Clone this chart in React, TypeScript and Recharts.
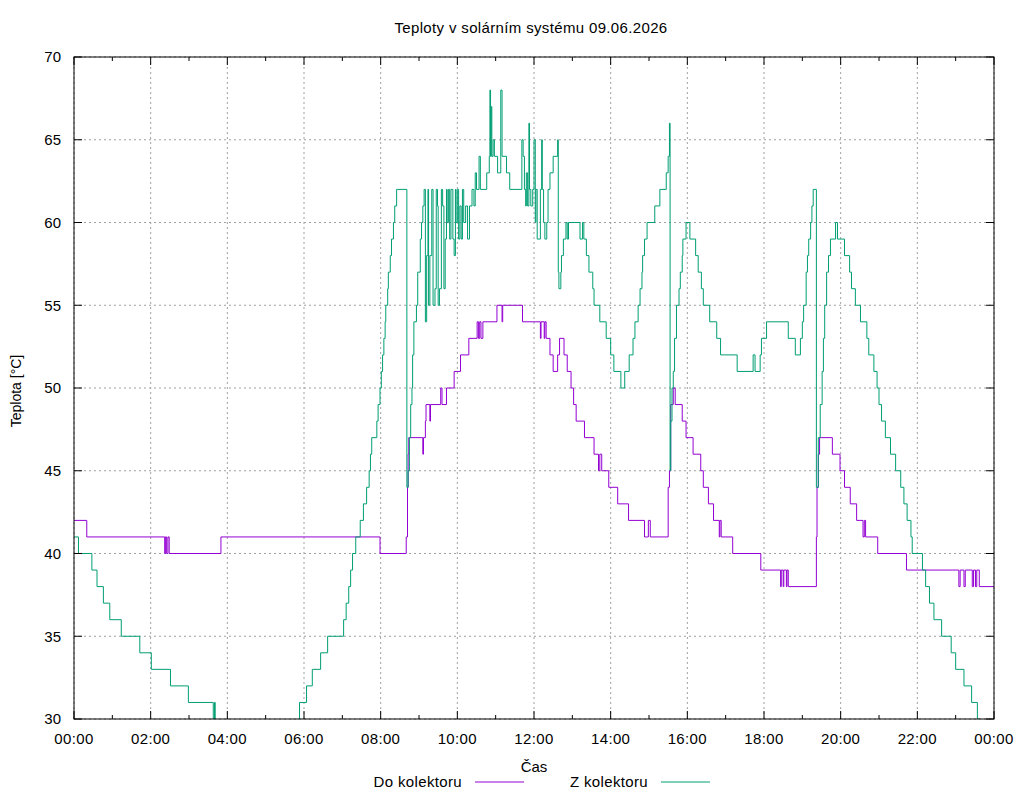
import React from 'react';
import { LineChart, Line, XAxis, YAxis, CartesianGrid, Legend } from 'recharts';

// time (HH:MM) -> temperature, step changes
const doKolektoru: [string, number][] = [
  ['00:00', 42], ['00:20', 41], ['02:22', 40], ['02:23', 41], ['02:25', 40], ['02:27', 41], ['02:29', 40],
  ['03:50', 41], ['07:59', 40], ['08:40', 41], ['08:42', 44], ['08:43', 46], ['08:44', 47], ['09:06', 46],
  ['09:07', 47], ['09:10', 48], ['09:11', 49], ['09:17', 48], ['09:18', 49], ['09:34', 50], ['09:36', 49],
  ['09:43', 50], ['09:55', 51], ['10:05', 52], ['10:18', 53], ['10:31', 54], ['10:33', 53], ['10:35', 54],
  ['10:37', 53], ['10:40', 54], ['11:02', 55], ['11:10', 54], ['11:11', 55], ['11:42', 54], ['12:10', 53],
  ['12:11', 54], ['12:16', 53], ['12:17', 54], ['12:19', 53], ['12:25', 52], ['12:30', 51], ['12:37', 52],
  ['12:40', 53], ['12:47', 52], ['12:52', 51], ['12:58', 50], ['13:02', 49], ['13:06', 48], ['13:19', 47],
  ['13:34', 46], ['13:41', 45], ['13:43', 46], ['13:46', 45], ['13:57', 44], ['14:11', 43], ['14:28', 42],
  ['14:53', 41], ['14:59', 42], ['15:02', 41], ['15:30', 44], ['15:32', 45], ['15:34', 49], ['15:38', 50],
  ['15:41', 49], ['15:52', 48], ['15:58', 47], ['16:09', 46], ['16:21', 45], ['16:25', 44], ['16:33', 43],
  ['16:41', 42], ['16:50', 41], ['16:51', 42], ['16:53', 41], ['17:11', 40], ['17:55', 39], ['18:26', 38],
  ['18:27', 39], ['18:30', 38], ['18:31', 39], ['18:35', 38], ['18:36', 39], ['18:38', 38], ['19:22', 41],
  ['19:23', 44], ['19:25', 46], ['19:27', 47], ['19:47', 46], ['19:59', 45], ['20:06', 44], ['20:15', 43],
  ['20:25', 42], ['20:35', 41], ['20:37', 42], ['20:39', 41], ['20:58', 40], ['21:43', 39], ['23:05', 38],
  ['23:07', 39], ['23:13', 38], ['23:15', 39], ['23:26', 38], ['23:28', 39], ['23:31', 38], ['23:33', 39],
  ['23:37', 38], ['24:00', 38],
];

const zKolektoru: [string, number][] = [
  ['00:00', 41], ['00:07', 40], ['00:28', 39], ['00:36', 38], ['00:46', 37], ['00:56', 36], ['01:14', 35],
  ['01:43', 34], ['02:01', 33], ['02:31', 32], ['02:59', 31], ['03:38', 30], ['03:40', 31], ['03:41', 30],
  ['03:42', 29], ['04:40', 28], ['05:30', 29], ['05:51', 30], ['05:53', 31], ['06:04', 32], ['06:13', 33],
  ['06:26', 34], ['06:37', 35], ['07:02', 36], ['07:06', 37], ['07:10', 38], ['07:13', 39], ['07:16', 40],
  ['07:21', 41], ['07:28', 42], ['07:33', 43], ['07:38', 44], ['07:42', 45], ['07:44', 46], ['07:46', 47],
  ['07:54', 48], ['07:56', 49], ['07:59', 50], ['08:01', 51], ['08:03', 52], ['08:05', 53], ['08:07', 54],
  ['08:08', 55], ['08:11', 56], ['08:12', 57], ['08:15', 58], ['08:17', 59], ['08:20', 60], ['08:22', 61],
  ['08:25', 62], ['08:41', 44], ['08:43', 45], ['08:45', 47], ['08:47', 49], ['08:49', 50], ['08:50', 52],
  ['08:52', 54], ['08:56', 55], ['08:58', 57], ['09:02', 59], ['09:04', 60], ['09:06', 61], ['09:08', 62],
  ['09:10', 54], ['09:12', 58], ['09:14', 62], ['09:15', 55], ['09:17', 58], ['09:20', 62], ['09:22', 55],
  ['09:25', 56], ['09:27', 62], ['09:29', 61], ['09:30', 55], ['09:32', 56], ['09:35', 62], ['09:37', 61],
  ['09:39', 56], ['09:41', 59], ['09:43', 62], ['09:44', 60], ['09:46', 62], ['09:48', 59], ['09:50', 62],
  ['09:53', 59], ['09:55', 58], ['09:57', 62], ['09:58', 60], ['10:00', 62], ['10:02', 59], ['10:04', 61],
  ['10:06', 59], ['10:08', 62], ['10:10', 60], ['10:13', 61], ['10:16', 59], ['10:19', 61], ['10:23', 62],
  ['10:26', 61], ['10:28', 63], ['10:30', 62], ['10:34', 64], ['10:36', 62], ['10:46', 63], ['10:50', 64],
  ['10:51', 68], ['10:52', 64], ['10:53', 67], ['10:54', 64], ['10:56', 65], ['10:58', 64], ['11:03', 63],
  ['11:08', 68], ['11:10', 64], ['11:17', 63], ['11:22', 62], ['11:41', 65], ['11:43', 64], ['11:45', 62],
  ['11:47', 61], ['11:48', 63], ['11:50', 61], ['11:52', 66], ['11:53', 62], ['11:55', 61], ['11:58', 62],
  ['12:00', 65], ['12:02', 60], ['12:03', 62], ['12:05', 59], ['12:10', 62], ['12:12', 65], ['12:13', 62],
  ['12:15', 60], ['12:17', 59], ['12:20', 60], ['12:22', 62], ['12:25', 63], ['12:30', 64], ['12:37', 65],
  ['12:38', 57], ['12:39', 56], ['12:42', 57], ['12:43', 58], ['12:46', 59], ['12:50', 60], ['12:52', 59],
  ['12:54', 60], ['13:12', 59], ['13:16', 60], ['13:18', 59], ['13:22', 58], ['13:26', 57], ['13:32', 56],
  ['13:34', 55], ['13:43', 54], ['13:53', 53], ['14:00', 52], ['14:05', 51], ['14:16', 50], ['14:22', 51],
  ['14:29', 52], ['14:35', 53], ['14:38', 54], ['14:43', 55], ['14:46', 56], ['14:49', 57], ['14:50', 58],
  ['14:53', 59], ['14:57', 60], ['15:09', 61], ['15:17', 62], ['15:27', 63], ['15:30', 64], ['15:32', 66],
  ['15:33', 45], ['15:34', 48], ['15:36', 50], ['15:38', 51], ['15:40', 53], ['15:43', 55], ['15:47', 56],
  ['15:49', 57], ['15:52', 58], ['15:53', 59], ['15:58', 60], ['16:04', 59], ['16:13', 58], ['16:17', 57],
  ['16:22', 56], ['16:25', 55], ['16:35', 54], ['16:46', 53], ['16:52', 52], ['17:18', 51], ['17:43', 52],
  ['17:46', 51], ['17:54', 52], ['17:56', 53], ['18:04', 54], ['18:38', 53], ['18:49', 52], ['18:57', 53],
  ['19:00', 54], ['19:02', 55], ['19:06', 57], ['19:08', 58], ['19:10', 59], ['19:13', 60], ['19:15', 61],
  ['19:17', 62], ['19:22', 44], ['19:25', 47], ['19:28', 49], ['19:31', 51], ['19:33', 53], ['19:35', 55],
  ['19:38', 57], ['19:41', 58], ['19:44', 59], ['19:52', 60], ['19:55', 59], ['20:06', 58], ['20:14', 57],
  ['20:17', 56], ['20:23', 55], ['20:31', 54], ['20:41', 53], ['20:44', 52], ['20:52', 51], ['20:57', 50],
  ['21:00', 49], ['21:04', 48], ['21:10', 47], ['21:18', 46], ['21:26', 45], ['21:34', 44], ['21:39', 43],
  ['21:44', 42], ['21:50', 41], ['21:52', 40], ['22:08', 39], ['22:13', 38], ['22:19', 37], ['22:26', 36],
  ['22:38', 35], ['22:53', 34], ['23:00', 33], ['23:13', 32], ['23:25', 31], ['23:34', 30], ['23:38', 29],
  ['24:00', 28],
];

const majorTicks = [0, 120, 240, 360, 480, 600, 720, 840, 960, 1080, 1200, 1320, 1440];
const hourTicks = majorTicks.flatMap((t) => (t < 1440 ? [t, t + 60] : [t]));
const tempTicks = [30, 35, 40, 45, 50, 55, 60, 65, 70];

const PLOT_LEFT = 74;
const PLOT_RIGHT = 994;
const PLOT_TOP = 57;
const PLOT_BOTTOM = 719;
const FONT = '"Liberation Sans", Arial, sans-serif';
const PURPLE = '#9400d3';
const GREEN = '#009e73';

const toMinutes = (s: string) => {
  const [h, m] = s.split(':').map(Number);
  return h * 60 + m;
};
const fmtTime = (v: number) => `${String(Math.floor(v / 60) % 24).padStart(2, '0')}:00`;

const doData = doKolektoru.map(([t, v]) => ({ t: toMinutes(t), v }));
const zData = zKolektoru.map(([t, v]) => ({ t: toMinutes(t), v }));

function XTick(props: any) {
  const { x, payload } = props;
  const major = payload.value % 120 === 0;
  const len = major ? 8 : 4;
  return (
    <g>
      <line x1={x} y1={PLOT_BOTTOM} x2={x} y2={PLOT_BOTTOM - len} stroke="#000" />
      <line x1={x} y1={PLOT_TOP} x2={x} y2={PLOT_TOP + len} stroke="#000" />
      {major && (
        <text x={x} y={744} textAnchor="middle" fontSize={15} letterSpacing={0.35} fontFamily={FONT} fill="#000">
          {fmtTime(payload.value)}
        </text>
      )}
    </g>
  );
}

function YTick(props: any) {
  const { x, y, payload } = props;
  return (
    <g>
      <line x1={PLOT_LEFT} y1={y} x2={PLOT_LEFT + 8} y2={y} stroke="#000" />
      <line x1={PLOT_RIGHT} y1={y} x2={PLOT_RIGHT - 8} y2={y} stroke="#000" />
      <text x={x} y={y} dy="0.36em" textAnchor="end" fontSize={15} fontFamily={FONT} fill="#000">
        {payload.value}
      </text>
    </g>
  );
}

function KeyContent(props: any) {
  const items = props.payload || [];
  return (
    <svg width={994} height={20} style={{ display: 'block' }}>
      {items.map((it: any, i: number) => (
        <g key={it.value}>
          <text x={462 + 186 * i} y={16.5} textAnchor="end" fontSize={15} letterSpacing={0.35} fontFamily={FONT} fill="#000">
            {it.value}
          </text>
          <line x1={475 + 186 * i} y1={12} x2={524 + 186 * i} y2={12} stroke={it.color} strokeWidth={1} />
        </g>
      ))}
    </svg>
  );
}

export default function App() {
  return (
    <div style={{ position: 'absolute', left: 0, top: 0, width: 1024, height: 800, background: '#fff' }}>
      <LineChart width={1024} height={800} margin={{ top: 57, right: 30, bottom: 10, left: 0 }}>
        <CartesianGrid stroke="#a0a0a0" strokeDasharray="2 3" verticalValues={majorTicks} horizontalValues={tempTicks} />
        <XAxis
          type="number"
          dataKey="t"
          domain={[0, 1440]}
          ticks={hourTicks}
          interval={0}
          height={51}
          tickLine={false}
          tickSize={0}
          tickMargin={0}
          axisLine={false}
          tick={<XTick />}
          label={{ value: 'Čas', position: 'insideBottom', offset: -2, fill: '#000', fontSize: 15, fontFamily: FONT }}
        />
        <YAxis
          type="number"
          domain={[30, 70]}
          ticks={tempTicks}
          interval={0}
          allowDataOverflow
          width={74}
          tickLine={false}
          tickSize={0}
          tickMargin={13}
          axisLine={false}
          tick={<YTick />}
        />
        <Legend verticalAlign="bottom" content={<KeyContent />} />
        <Line
          data={doData}
          dataKey="v"
          name="Do kolektoru"
          type="stepAfter"
          stroke={PURPLE}
          strokeWidth={1}
          dot={false}
          activeDot={false}
          isAnimationActive={false}
        />
        <Line
          data={zData}
          dataKey="v"
          name="Z kolektoru"
          type="stepAfter"
          stroke={GREEN}
          strokeWidth={1}
          dot={false}
          activeDot={false}
          isAnimationActive={false}
        />
      </LineChart>
      <svg width={1024} height={800} style={{ position: 'absolute', left: 0, top: 0, pointerEvents: 'none' }}>
        <rect
          x={PLOT_LEFT}
          y={PLOT_TOP}
          width={PLOT_RIGHT - PLOT_LEFT}
          height={PLOT_BOTTOM - PLOT_TOP}
          fill="none"
          stroke="#000"
        />
        <text x={531} y={33} textAnchor="middle" fontSize={15} letterSpacing={0.35} fontFamily={FONT} fill="#000">
          Teploty v solárním systému 09.06.2026
        </text>
        <text x={21} y={391} transform="rotate(-90 21 391)" textAnchor="middle" fontSize={14} fontFamily={FONT} fill="#000">
          Teplota [°C]
        </text>
      </svg>
    </div>
  );
}
